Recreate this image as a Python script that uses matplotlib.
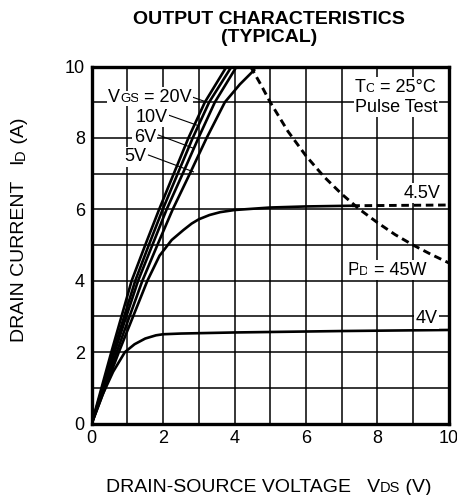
import matplotlib
matplotlib.use("Agg")
import matplotlib.pyplot as plt
from matplotlib.transforms import IdentityTransform

plt.rcParams['font.family'] = ['Liberation Sans', 'DejaVu Sans']

# ---- data ----
id_steps = [0, 2, 4, 5, 6, 7, 8, 9, 10]
vds_20v = [0, 0.55, 1.12, 1.50, 1.89, 2.30, 2.71, 3.17, 3.78]
vds_10v = [0, 0.60, 1.22, 1.60, 1.99, 2.41, 2.83, 3.29, 3.92]
vds_6v = [0, 0.64, 1.30, 1.70, 2.10, 2.55, 2.99, 3.45, 4.06]

vds_5v = [0, 0.70, 1.42, 1.84, 2.27, 2.75, 3.22, 3.73, 4.15, 4.55]
id_5v = [0, 2, 4, 5, 6, 7, 8, 9, 9.5, 9.9]

vds_45v = [0, 0.76, 1.56, 1.90, 2.24, 2.57, 2.80, 3.0, 3.3, 3.6, 4.0, 5.0, 6.0, 7.3]
id_45v = [0, 2, 4, 4.7, 5.14, 5.42, 5.60, 5.72, 5.84, 5.92, 5.98, 6.05, 6.08, 6.10]
vds_45v_ext = [7.3, 10]
id_45v_ext = [6.10, 6.12]

vds_4v = [0, 0.3, 0.6, 0.93, 1.2, 1.5, 1.8, 2.0, 2.5, 4, 7, 10]
id_4v = [0, 0.8, 1.45, 2.0, 2.22, 2.38, 2.47, 2.50, 2.52, 2.55, 2.59, 2.62]

# PD = 45 W limit
vds_pd = [4.45, 4.75, 5, 5.5, 6, 6.5, 7, 7.5, 8, 8.5, 9, 9.5, 10]
id_pd = [10, 9.47, 9.0, 8.18, 7.5, 6.92, 6.43, 6.0, 5.63, 5.29, 5.0, 4.74, 4.5]

ticks = [0, 2, 4, 6, 8, 10]

fig = plt.figure(figsize=(4.57, 4.95), dpi=100)
W, H = 457, 495
x0, x1, y0, y1 = 91.7, 448.7, 423.5, 66.5
ax = fig.add_axes([x0 / W, (H - y0) / H, (x1 - x0) / W, (y0 - y1) / H])
ax.set_xlim(0, 10)
ax.set_ylim(0, 10)
ax.set_xticks(ticks)
ax.set_yticks(ticks)
ax.set_xticks(range(11), minor=True)
ax.set_yticks(range(11), minor=True)
ax.grid(True, which='both', color='black', lw=1.1)
ax.set_axisbelow(True)
ax.tick_params(which='both', length=0, labelsize=13, pad=5)
for sp in ax.spines.values():
    sp.set_linewidth(2.4)

lw = 1.9
for v in (vds_20v, vds_10v, vds_6v):
    ax.plot(v, id_steps, color='black', lw=lw)
ax.plot(vds_5v, id_5v, color='black', lw=lw)
ax.plot(vds_45v, id_45v, color='black', lw=lw)
ax.plot(vds_45v_ext, id_45v_ext, color='black', lw=2.1, dashes=(2.6, 1.6))
ax.plot(vds_4v, id_4v, color='black', lw=lw)
ax.plot(vds_pd, id_pd, color='black', lw=2.1, dashes=(2.6, 1.6))

renderer = fig.canvas.get_renderer()
BIG, SMALL = 13, 9.5
LBIG, LSMALL = 14, 10.5


def rich(x, y, parts, ha='center', rot=0, bg=False, data=True):
    """Draw text made of pieces with different sizes on a common baseline.
    (x, y) is the vertical middle of the capitals."""
    if data:
        px, py = ax.transData.transform((x, y))
    else:
        px, py = x, H - y
    objs = []
    for s, size in parts:
        t = fig.text(0, 0, s, fontsize=size, rotation=rot, rotation_mode='anchor',
                     ha='left', va='baseline', transform=IdentityTransform(), zorder=5)
        if bg:
            t.set_bbox(dict(fc='white', ec='none', pad=1.0))
        objs.append(t)
    lens = []
    for t in objs:
        ext = t.get_window_extent(renderer)
        lens.append(ext.height if rot == 90 else ext.width)
    total = sum(lens)
    cap = 0.72 * max(p[1] for p in parts) * 100 / 72
    pos = {'center': -total / 2, 'left': 0, 'right': -total}[ha]
    for t, L in zip(objs, lens):
        if rot == 90:
            t.set_position((px + cap / 2, py + pos))
        else:
            t.set_position((px + pos, py - cap / 2))
        pos += L
    return objs


# curve labels with leaders
rich(1.63, 9.2, [('V', BIG), ('GS', SMALL), (' = 20V', BIG)], bg=True)
ax.plot([2.66, 3.2], [9.2, 9.01], color='black', lw=0.8)
rich(1.68, 8.64, [('10V', BIG)], bg=True)
ax.plot([2.15, 2.94], [8.64, 8.36], color='black', lw=0.8)
rich(1.49, 8.08, [('6V', BIG)], bg=True)
ax.plot([1.87, 2.85], [8.08, 7.71], color='black', lw=0.8)
rich(1.21, 7.53, [('5V', BIG)], bg=True)
ax.plot([1.59, 2.85], [7.52, 7.05], color='black', lw=0.8)

rich(8.5, 9.48, [('T', BIG), ('C', SMALL), (' = 25\u00b0C', BIG)], bg=True)
rich(8.54, 8.92, [('Pulse Test', BIG)], bg=True)
rich(9.24, 6.51, [('4.5V', BIG)], bg=True)
rich(8.26, 4.35, [('P', BIG), ('D', SMALL), (' = 45W', BIG)], bg=True)
rich(9.38, 2.99, [('4V', BIG)], bg=True)

# titles and axis labels
fig.text(269 / W, 1 - 19.5 / H, 'OUTPUT CHARACTERISTICS', ha='center', va='center',
         fontsize=14, fontweight='bold')
fig.text(269 / W, 1 - 37.5 / H, '(TYPICAL)', ha='center', va='center',
         fontsize=14, fontweight='bold')
rich(268.5, 484.5, [('DRAIN-SOURCE VOLTAGE   V', LBIG), ('DS', LSMALL), (' (V)', LBIG)], data=False)
rich(17.5, 230, [('DRAIN CURRENT   I', LBIG), ('D', LSMALL), (' (A)', LBIG)], rot=90, data=False)

fig.savefig('out.png', dpi=100)
